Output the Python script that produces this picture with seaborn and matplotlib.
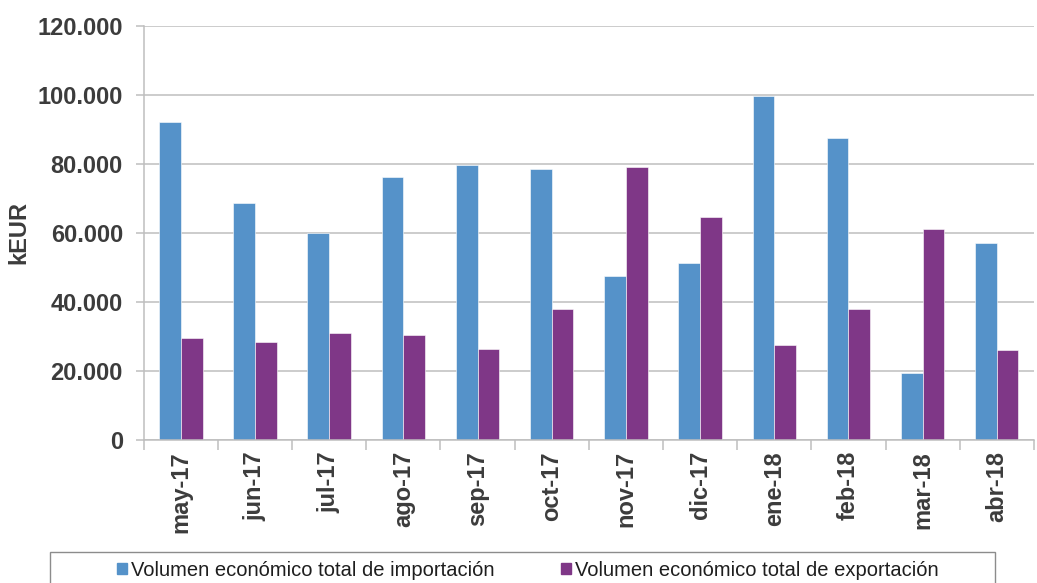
import matplotlib
matplotlib.use("Agg")
import matplotlib.pyplot as plt
from matplotlib.ticker import FuncFormatter, MultipleLocator
from matplotlib.patches import Rectangle
import seaborn as sns
import pandas as pd

months = ["may-17", "jun-17", "jul-17", "ago-17", "sep-17", "oct-17",
          "nov-17", "dic-17", "ene-18", "feb-18", "mar-18", "abr-18"]
importacion = [92300, 68800, 59900, 76200, 79700, 78500,
               47500, 51400, 99600, 87600, 19400, 57000]
exportacion = [29700, 28300, 31100, 30400, 26400, 37900,
               79200, 64700, 27400, 37900, 61300, 26000]
series_names = ["Volumen económico total de importación",
                "Volumen económico total de exportación"]
colors = ["#5592C9", "#7F3787"]

df = pd.DataFrame({
    "mes": months * 2,
    "valor": importacion + exportacion,
    "serie": [series_names[0]] * len(months) + [series_names[1]] * len(months),
})

sns.set_theme(style="white")
plt.rcParams["font.family"] = ["Liberation Sans", "DejaVu Sans"]

fig = plt.figure(figsize=(10.37, 5.83), dpi=100)
ax = fig.add_axes([0.1386, 0.2453, 0.997 - 0.1386, 0.9554 - 0.2453])

sns.barplot(data=df, x="mes", y="valor", hue="serie", palette=colors,
            width=0.585, ax=ax, legend=False, edgecolor="white", linewidth=0.4,
            saturation=1)

ax.set_ylim(0, 120000)
ax.set_xlim(-0.5, len(months) - 0.5)
ax.yaxis.set_major_locator(MultipleLocator(20000))
ax.yaxis.set_major_formatter(FuncFormatter(lambda v, p: f"{int(v):,}".replace(",", ".")))
ax.yaxis.grid(True, color="#BEBEBE", linewidth=1.1)
ax.set_axisbelow(True)

for s in ["top", "right"]:
    ax.spines[s].set_visible(False)
for s in ["left", "bottom"]:
    ax.spines[s].set_color("#BEBEBE")
    ax.spines[s].set_linewidth(1.1)

txtcol = "#3C3C3C"
ax.set_xticks([i - 0.5 for i in range(len(months) + 1)], minor=True)
ax.tick_params(axis="x", which="minor", length=7, color="#BEBEBE", width=1.1, bottom=True)
ax.tick_params(axis="x", which="major", length=0, pad=8)
ax.tick_params(axis="y", which="major", length=6, color="#BEBEBE", width=1.1, left=True, pad=9)
ax.set_xticks(range(len(months)))
ax.set_xticklabels(months, rotation=90, fontsize=17, fontweight="bold", color=txtcol)
for lab in ax.get_yticklabels():
    lab.set_fontsize(17)
    lab.set_fontweight("bold")
    lab.set_color(txtcol)

ax.set_xlabel("")
ax.set_ylabel("kEUR", fontsize=17, fontweight="bold", color=txtcol, labelpad=5)

# legend box
fig.patches.append(Rectangle((50 / 1037, -0.05), 945 / 1037, 0.05 + (583 - 552) / 583,
                             transform=fig.transFigure, fill=False,
                             edgecolor="#8C8C8C", linewidth=1.0))
handles = [Rectangle((0, 0), 1, 1, color=c) for c in colors]
fig.legend(handles, series_names, loc="center", ncol=2,
           bbox_to_anchor=(528 / 1037, 1 - 570 / 583), frameon=False,
           fontsize=14.5, handlelength=0.5, handleheight=0.5,
           handletextpad=0.2, columnspacing=3.3, labelcolor="#1E1E1E")

fig.savefig("out.png", dpi=100)
